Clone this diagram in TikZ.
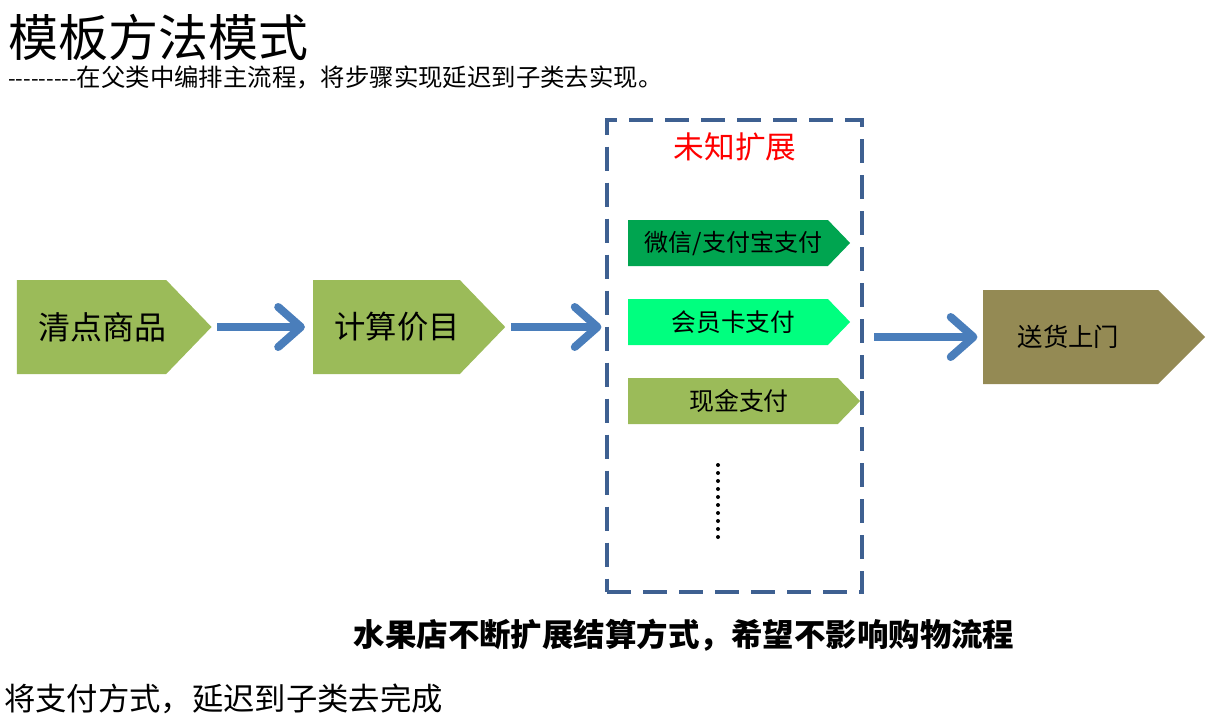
\documentclass[tikz,border=0pt]{standalone}
\usepackage{fontspec}
\setmainfont{Noto Sans CJK SC}
\newfontfamily\cjk{Noto Sans CJK SC}
\usetikzlibrary{shapes.symbols,arrows.meta}
\definecolor{olivegreen}{RGB}{155,187,89}
\definecolor{darkgreen}{RGB}{0,165,80}
\definecolor{springgreen}{RGB}{0,255,127}
\definecolor{khaki}{RGB}{148,138,84}
\definecolor{arrowblue}{RGB}{74,126,187}
\definecolor{boxblue}{RGB}{62,96,145}
\tikzset{
  pent/.style={signal, signal to=east, signal pointer angle=92, inner sep=0pt, draw=none},
  bigpent/.style={pent, minimum width=144pt, minimum height=70.5pt},
  smallpent/.style={pent, minimum width=166.5pt, minimum height=34.5pt},
  flow/.style={draw=arrowblue, line width=6pt, -{Straight Barb[length=17pt, width=30pt, round]}},
  txt/.style={inner sep=0pt},
}
\begin{document}
\begin{tikzpicture}[x=0.75pt,y=-0.75pt]
\useasboundingbox (0,0) rectangle (1213,721);
% titles
\node[txt, anchor=west] (title) at (8,37) {\fontsize{37.5}{42}\selectfont 模板方法模式};
\node[txt, anchor=west] (sub) at (8,77) {\cjk\fontsize{16.5}{19}\selectfont ---------\fontsize{18.3}{20}\selectfont 在父类中编排主流程，将步骤实现延迟到子类去实现。};
% main flow
\node[bigpent, fill=olivegreen] (p1) at (91.5,327) {\hspace*{16pt}\fontsize{24}{28}\selectfont 清点商品};
\node[bigpent, fill=olivegreen] (p2) at (386.5,327) {\hspace*{16pt}\fontsize{23.5}{28}\selectfont 计算价目};
\node[draw=boxblue, line width=2.6pt, dash pattern=on 18pt off 9pt, minimum width=191pt, minimum height=354pt, inner sep=0pt] (box) at (734.5,356) {};
\node[txt, text=red] (unk) at (735,147) {\fontsize{23}{26}\selectfont 未知扩展};
\node[smallpent, fill=darkgreen] (s1) at (728,243) {\hspace*{8pt}\fontsize{18}{21}\selectfont 微信/支付宝支付};
\node[smallpent, fill=springgreen] (s2) at (728,322) {\hspace*{8pt}\fontsize{18.5}{21}\selectfont 会员卡支付};
\node[smallpent, fill=olivegreen, minimum width=174pt] (s3) at (733,401) {\hspace*{9pt}\fontsize{18.7}{21}\selectfont 现金支付};
\draw[line width=3pt, line cap=round, dash pattern=on 0pt off 6pt] (718,465) -- (718,538);
\node[bigpent, fill=khaki, minimum width=166.5pt, signal pointer angle=90] (p4) at (1070.5,337) {\fontsize{19}{22}\selectfont 送货上门\hspace*{3pt}};
% connectors
\draw[flow, shorten <=4pt, shorten >=6pt] (p1.east) -- (p2.west);
\draw[flow, shorten <=4pt, shorten >=3pt] (p2.east) -- (p2.east -| box.west);
\draw[flow, shorten <=8pt, shorten >=4pt] (box.east |- p4.west) -- (p4.west);
% bottom texts
\node[txt] (note) at (684,635) {\fontsize{23.6}{28}\selectfont\bfseries 水果店不断扩展结算方式，希望不影响购物流程};
\node[txt, anchor=west] (concl) at (4,699) {\fontsize{23.5}{28}\selectfont 将支付方式，延迟到子类去完成};
\end{tikzpicture}
\end{document}
